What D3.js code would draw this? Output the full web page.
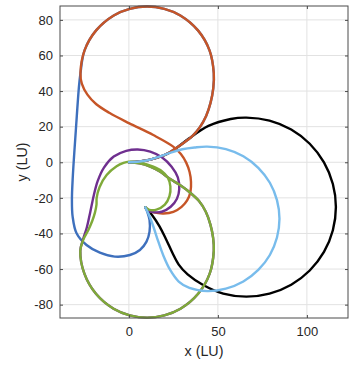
<!DOCTYPE html>
<html lang="en">
<head>
  <meta charset="UTF-8">
  <title>paths</title>
  <script src="https://cdn.jsdelivr.net/npm/d3@7"></script>
  <style>
    body { margin: 0; background: #fff; }
    text { font-family: "Liberation Sans", Arial, Helvetica, sans-serif; fill: #262626; }
  </style>
</head>
<body>
  <svg id="chart" width="354" height="366"></svg>

  <script>
    // tick values
    const xTicks = [0, 50, 100];
    const yTicks = [-80, -60, -40, -20, 0, 20, 40, 60, 80];

    // paths, [x, y] in LU
    const pathBlack = [[0,0],[6,0.4],[12,1.5],[18,3.3],[22,5],[27,8.2],[33.7,13.3],[44.7,20.4],[57.2,24.3],[66,25.1],
      [79,23.4],[91.2,18.4],[101.6,10.4],[109.6,-0.1],[114.6,-12.2],[116.3,-25.2],[114.6,-38.2],[109.6,-50.4],
      [101.6,-60.8],[91.2,-68.8],[79,-73.8],[66,-75.5],[53,-73.8],[41.5,-68.8],[33,-63],[28,-57.5],[24.5,-51],
      [21,-43.5],[17.2,-36],[13.3,-30],[9.2,-25.3]];

    const pathBlue = [[0,0],[6,0.4],[12,1.5],[18,3.3],[22,5],[26,7.6],[30.5,10.7],[35.5,14.6],[39.8,19.6],[43.4,26],
      [45.9,33.5],[47.4,41.5],[47.7,50.1],[45.3,62.9],[38.8,74.1],[28.9,82.5],[19.9,86.2],[10.2,87.5],[0.5,86.2],
      [-8.5,82.5],[-18.4,74.1],[-24.9,62.9],[-27.2,50.1],[-28,43],[-29.8,18],[-31.5,-8],[-32,-21],[-31.6,-30.5],
      [-29.4,-39.9],[-23.8,-46.5],[-16.3,-50.8],[-7.9,-53],[0.6,-52.1],[6.2,-49.3],[9.9,-44.6],[11.6,-39],
      [11.6,-32.4],[10.5,-28.3],[9.2,-25.3]];

    const pathOrange = [[0,0],[6,0.4],[12,1.5],[18,3.3],[22,5],[26,7.6],[30.5,10.7],[35.5,14.6],[39.8,19.6],[43.4,26],
      [45.9,33.5],[47.4,41.5],[47.7,50.1],[45.3,62.9],[38.8,74.1],[28.9,82.5],[19.9,86.2],[10.2,87.5],[0.5,86.2],
      [-8.5,82.5],[-18.4,74.1],[-24.9,62.9],[-27.2,50.1],[-26.4,44],[-23.3,38],[-18.3,32.6],[-11,27.8],[0,22],
      [13.7,15.3],[24.9,8.8],[29.2,4.6],[32.2,-0.2],[34.1,-5.5],[34.9,-11],[34.6,-16.5],[32.8,-21.3],[29.6,-25.1],
      [25,-27.9],[19.5,-28.8],[14,-28.2],[11,-27],[9.2,-25.3]];

    const pathPurple = [[0,0],[6,-0.6],[12,-2.4],[17.4,-5.2],[23,-9.3],[28.7,-12.8],[34.3,-17],[39.4,-21.8],
      [43.2,-27.8],[45.8,-35],[47.3,-42.3],[47.7,-49.8],[45.4,-62.6],[38.9,-73.9],[29,-82.3],[19.9,-86],[10.2,-87.3],
      [0.5,-86],[-8.6,-82.3],[-18.5,-73.9],[-25,-62.6],[-27.3,-49.8],[-25.9,-43.8],[-23.6,-36.5],[-21.6,-27.5],
      [-19.7,-18.5],[-17.5,-10.5],[-14,-3],[-8.5,3.2],[-1.5,6.4],[5,7.2],[12,6],[18.5,2.8],[24,-2.5],
      [27.5,-8.5],[28.3,-15],[27,-20.5],[23.5,-25],[18.5,-27.8],[13.5,-28],[10.5,-27],[9.2,-25.3]];

    const pathGreen = [[0,0],[6,-0.6],[12,-2.4],[17.4,-5.2],[23,-9.3],[28.7,-12.8],[34.3,-17],[39.4,-21.8],
      [43.2,-27.8],[45.8,-35],[47.3,-42.3],[47.7,-49.8],[45.4,-62.6],[38.9,-73.9],[29,-82.3],[19.9,-86],[10.2,-87.3],
      [0.5,-86],[-8.6,-82.3],[-18.5,-73.9],[-25,-62.6],[-27.3,-49.8],[-25.6,-43.5],[-22.9,-38.3],[-20.6,-33],
      [-19,-28],[-18.2,-23.8],[-18.1,-20],[-16.5,-14],[-12.5,-7.2],[-6.9,-2.3],[-3,-0.4],[0,0.3],[7,-0.3],
      [13.7,-2.5],[18.5,-5],[21.8,-8.5],[23.3,-13.5],[22.8,-19],[20.2,-23.8],[15.5,-26.6],[11.5,-26.7],[9.2,-25.3]];

    const pathLightBlue = [[0,0],[6,0.4],[12,1.5],[18,3.4],[24,5.6],[30,7.3],[36.9,8.3],[44,8.8],[54.5,7.4],
      [64.3,3.4],[72.7,-3.1],[79.2,-11.5],[83.2,-21.3],[84.6,-31.8],[83.2,-42.3],[79.2,-52.1],[72.7,-60.5],
      [64.3,-67],[54.5,-71],[44,-72.4],[34,-70.6],[28,-67],[23.2,-60.5],[19.4,-52.5],[16.5,-44.5],[14.2,-37.5],
      [11.9,-31],[9.2,-25.3]];

    const series = [
      { pts: pathBlack, color: "#000000" },
      { pts: pathBlue, color: "#3E70BD" },
      { pts: pathOrange, color: "#C65527" },
      { pts: pathPurple, color: "#6F2F8F" },
      { pts: pathGreen, color: "#7FAA39" },
      { pts: pathLightBlue, color: "#78BCEC" }
    ];

    const mLeft = 60, mRight = 348, mTop = 6, mBottom = 318;

    const x = d3.scaleLinear().domain([-38.7, 123.1]).range([mLeft, mRight]);
    const y = d3.scaleLinear().domain([-87.5, 87.8]).range([mBottom, mTop]);

    const svg = d3.select("#chart");

    // grid
    svg.append("g")
      .selectAll("line")
      .data(xTicks)
      .enter()
      .append("line")
      .attr("x1", d => x(d)).attr("x2", d => x(d))
      .attr("y1", mTop).attr("y2", mBottom)
      .attr("stroke", "#e2e2e2").attr("stroke-width", 1);

    svg.append("g")
      .selectAll("line")
      .data(yTicks)
      .enter()
      .append("line")
      .attr("x1", mLeft).attr("x2", mRight)
      .attr("y1", d => y(d)).attr("y2", d => y(d))
      .attr("stroke", "#e2e2e2").attr("stroke-width", 1);

    // curves
    const line = d3.line()
      .x(d => x(d[0]))
      .y(d => y(d[1]))
      .curve(d3.curveCatmullRom.alpha(0.5));

    svg.append("g")
      .selectAll("path")
      .data(series)
      .enter()
      .append("path")
      .attr("d", d => line(d.pts))
      .attr("fill", "none")
      .attr("stroke", d => d.color)
      .attr("stroke-width", 2.4)
      .attr("stroke-linejoin", "round")
      .attr("stroke-linecap", "round");

    // axes, ticks inside, box on
    const axisColor = "#4a4a4a";
    const xAxis = d3.axisBottom(x).tickValues(xTicks).tickSize(-3).tickPadding(9).tickFormat(d => String(d));
    const yAxis = d3.axisLeft(y).tickValues(yTicks).tickSize(-3).tickPadding(7).tickFormat(d => String(d));
    const xTopAxis = d3.axisTop(x).tickValues(xTicks).tickSize(-3).tickFormat("");
    const yRightAxis = d3.axisRight(y).tickValues(yTicks).tickSize(-3).tickFormat("");

    const gx = svg.append("g").attr("transform", "translate(0," + mBottom + ")").call(xAxis);
    const gy = svg.append("g").attr("transform", "translate(" + mLeft + ",0)").call(yAxis);
    const gt = svg.append("g").attr("transform", "translate(0," + mTop + ")").call(xTopAxis);
    const gr = svg.append("g").attr("transform", "translate(" + mRight + ",0)").call(yRightAxis);

    [gx, gy, gt, gr].forEach(g => {
      g.selectAll(".domain").remove();
      g.selectAll(".tick line").attr("stroke", axisColor);
      g.selectAll("text").attr("fill", "#262626").style("font-size", "13px")
        .style("font-family", "'Liberation Sans', Arial, sans-serif");
    });

    // box
    svg.append("rect")
      .attr("x", mLeft).attr("y", mTop)
      .attr("width", mRight - mLeft).attr("height", mBottom - mTop)
      .attr("fill", "none").attr("stroke", axisColor).attr("stroke-width", 1);

    svg.append("text")
      .attr("x", (mLeft + mRight) / 2).attr("y", 356)
      .attr("text-anchor", "middle")
      .style("font-size", "14.3px")
      .text("x (LU)");

    svg.append("text")
      .attr("transform", "translate(27," + ((mTop + mBottom) / 2) + ") rotate(-90)")
      .attr("text-anchor", "middle")
      .style("font-size", "14.3px")
      .text("y (LU)");
  </script>
</body>
</html>
